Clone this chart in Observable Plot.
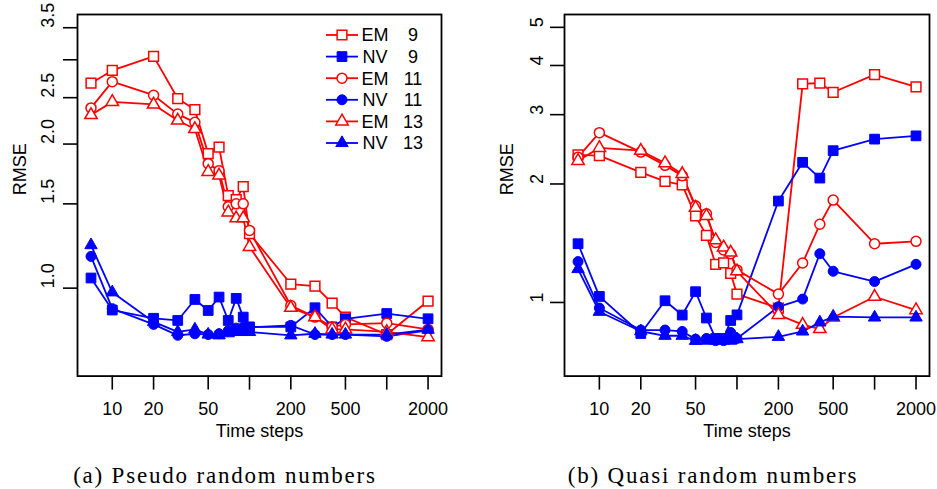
<!DOCTYPE html>
<html><head><meta charset="utf-8">
<script src="https://cdn.jsdelivr.net/npm/d3@7"></script>
<script src="https://cdn.jsdelivr.net/npm/@observablehq/plot@0.6"></script>
<style>
body{margin:0;background:#fff;}
#wrap{position:relative;width:937px;height:489px;overflow:hidden;background:#fff;}
.panel{position:absolute;top:0;}
#caps{position:absolute;left:0;top:0;}
</style></head><body><div id="wrap"></div>
<script>
// ---- data ----
const steps = [7,10,20,30,40,50,60,70,80,90,100,200,300,400,500,1000,2000];

const pseudoEM9  = [2.68,2.85,3.05,2.49,2.36,1.91,1.97,1.56,1.53,1.63,1.30,1.02,1.01,0.93,0.87,0.80,0.94];
const pseudoNV9  = [1.05,0.90,0.865,0.856,0.947,0.898,0.958,0.856,0.952,0.87,0.83,0.83,0.91,0.83,0.863,0.885,0.863];
const pseudoEM11 = [2.38,2.70,2.53,2.31,2.22,1.82,1.76,1.48,1.50,1.50,1.32,0.92,0.87,0.83,0.84,0.845,0.82];
const pseudoNV11 = [1.165,0.906,0.84,0.797,0.803,0.80,0.803,0.815,0.825,0.829,0.828,0.836,0.80,0.80,0.80,0.793,0.816];
const pseudoEM13 = [2.30,2.45,2.42,2.24,2.15,1.75,1.72,1.44,1.40,1.40,1.22,0.91,0.87,0.82,0.82,0.81,0.79];
const pseudoNV13 = [1.23,0.98,0.85,0.81,0.82,0.80,0.797,0.805,0.81,0.81,0.81,0.797,0.803,0.80,0.80,0.80,0.819];

const quasiEM9  = [2.37,2.36,2.14,2.03,1.99,1.66,1.48,1.25,1.26,1.185,1.05,0.968,3.59,3.61,3.42,3.79,3.53];
const quasiNV9  = [1.41,1.036,0.834,1.01,0.929,1.065,0.913,0.81,0.81,0.90,0.93,1.81,2.27,2.07,2.43,2.60,2.65];
const quasiEM11 = [2.34,2.70,2.41,2.23,2.10,1.76,1.68,1.42,1.36,1.33,1.21,1.05,1.26,1.58,1.82,1.41,1.43];
const quasiNV11 = [1.27,0.968,0.851,0.851,0.844,0.807,0.81,0.80,0.80,0.839,0.81,0.975,1.02,1.33,1.20,1.13,1.25];
const quasiEM13 = [2.29,2.47,2.43,2.26,2.12,1.74,1.66,1.44,1.38,1.34,1.20,0.93,0.878,0.856,0.916,1.034,0.956];
const quasiNV13 = [1.216,0.947,0.845,0.823,0.823,0.799,0.80,0.80,0.80,0.80,0.807,0.818,0.844,0.89,0.92,0.916,0.916];

const methods = ["EM","NV","EM","NV","EM","NV"];
const sizes = ["9","9","11","11","13","13"];

const xTicks = [10,20,50,100,200,500,1000,2000];
const xTickLabels = ["10","20","50","","200","500","","2000"];
const pseudoYTicks = [1,1.5,2,2.5,3,3.5];
const pseudoYTickLabels = ["1.0","1.5","2.0","2.5","","3.5"];
const quasiYTicks = [1,2,3,4,5];
const quasiYTickLabels = ["1","2","3","4","5"];

const xLabel = "Time steps";
const yLabel = "RMSE";
const captions = ["(a) Pseudo random numbers", "(b) Quasi random numbers"];

// ---- styles ----
const methodColor = {EM: "#ff0000", NV: "#0000ff"};
const sizeSymbol = {"9": "square", "11": "circle", "13": "triangle"};
const symbolR = {square: 5.5, circle: 5.0, triangle: 4.6};
const FONT = "'Liberation Sans', Arial, sans-serif";

function makePanel(seriesValues, yDomain, yTicks, yTickLabels, geom, withLegend) {
  const rows = seriesValues.map((vals, i) => steps.map((s, j) => ({step: s, rmse: vals[j], i})));
  const marks = [];
  rows.forEach((r, i) => {
    const c = methodColor[methods[i]];
    marks.push(Plot.line(r, {x: "step", y: "rmse", stroke: c, strokeWidth: 1.8}));
  });
  rows.forEach((r, i) => {
    const c = methodColor[methods[i]];
    const sym = sizeSymbol[sizes[i]];
    const filled = methods[i] === "NV";
    marks.push(Plot.dot(r, {x: "step", y: "rmse", symbol: sym, r: symbolR[sym],
      stroke: c, strokeWidth: filled ? 1 : 1.5, fill: filled ? c : "white"}));
  });
  marks.push(Plot.frame({stroke: "black", strokeWidth: 1.8}));
  marks.push(Plot.axisX(xTicks, {tickSize: 14, strokeWidth: 1.6, tickFormat: () => "", label: null}));
  marks.push(Plot.axisY(yTicks, {tickSize: 14, strokeWidth: 1.6, tickFormat: () => "", label: null}));
  marks.push(Plot.text(xTicks, {x: d => d, text: xTickLabels, frameAnchor: "bottom", dy: 26, lineAnchor: "top", fill: "black"}));
  marks.push(Plot.text(yTicks, {y: d => d, text: yTickLabels, frameAnchor: "left", dx: geom.yLabDx, rotate: -90, fill: "black"}));
  marks.push(Plot.text([xLabel], {text: d => d, frameAnchor: "bottom", dy: 61, fill: "black"}));
  marks.push(Plot.text([yLabel], {text: d => d, frameAnchor: "left", dx: -57, rotate: -90, fill: "black"}));

  const plot = Plot.plot({
    width: geom.width, height: geom.height,
    marginLeft: geom.ml, marginRight: geom.mr, marginTop: geom.mt, marginBottom: geom.mb,
    x: {type: "log", domain: [5.58, 2506]},
    y: {type: "log", domain: yDomain},
    style: {fontFamily: FONT, fontSize: "18px", background: "white", color: "black", overflow: "visible"},
    marks
  });

  if (withLegend) {
    const svg = d3.select(plot);
    const fr = geom.width - geom.mr; // frame right
    const g = svg.append("g").attr("font-family", FONT).attr("font-size", 18);
    methods.forEach((m, i) => {
      const y = geom.mt + 21 + i * 21.6;
      const c = methodColor[m];
      const sym = sizeSymbol[sizes[i]];
      const filled = m === "NV";
      g.append("line").attr("x1", fr - 115).attr("x2", fr - 83).attr("y1", y).attr("y2", y)
        .attr("stroke", c).attr("stroke-width", 1.8);
      const symType = {square: d3.symbolSquare, circle: d3.symbolCircle, triangle: d3.symbolTriangle}[sym];
      const rr = symbolR[sym];
      g.append("path").attr("d", d3.symbol(symType, Math.PI * rr * rr)())
        .attr("transform", `translate(${fr - 99},${y})`)
        .attr("fill", filled ? c : "white").attr("stroke", c).attr("stroke-width", filled ? 1 : 1.5);
      g.append("text").attr("x", fr - 66).attr("y", y).attr("dy", "0.36em").text(m);
      g.append("text").attr("x", fr - 28).attr("y", y).attr("dy", "0.36em").text(sizes[i]);
    });
  }
  return plot;
}

const wrap = document.getElementById("wrap");

const geomA = {width: 468, height: 450, ml: 77, mr: 27, mt: 14, mb: 74.4, yLabDx: -29.5};
const geomB = {width: 469, height: 450, ml: 96, mr: 8, mt: 14, mb: 74.4, yLabDx: -27};

const pA = makePanel([pseudoEM9, pseudoNV9, pseudoEM11, pseudoNV11, pseudoEM13, pseudoNV13],
  [0.655, 3.73], pseudoYTicks, pseudoYTickLabels, geomA, true);
const pB = makePanel([quasiEM9, quasiNV9, quasiEM11, quasiNV11, quasiEM13, quasiNV13],
  [0.65, 5.39], quasiYTicks, quasiYTickLabels, geomB, false);

const dA = document.createElement("div"); dA.className = "panel"; dA.style.left = "0px"; dA.appendChild(pA);
const dB = document.createElement("div"); dB.className = "panel"; dB.style.left = "468px"; dB.appendChild(pB);
wrap.appendChild(dA); wrap.appendChild(dB);

// captions
const caps = d3.select(wrap).append("svg").attr("id", "caps").attr("width", 937).attr("height", 489)
  .style("pointer-events", "none");
const capX = [225, 713];
captions.forEach((t, i) => {
  caps.append("text").attr("x", capX[i]).attr("y", 483).attr("text-anchor", "middle")
    .attr("font-family", "'Liberation Serif', serif").attr("font-size", 23)
    .style("letter-spacing", "1.8px").text(t);
});
</script></body></html>
